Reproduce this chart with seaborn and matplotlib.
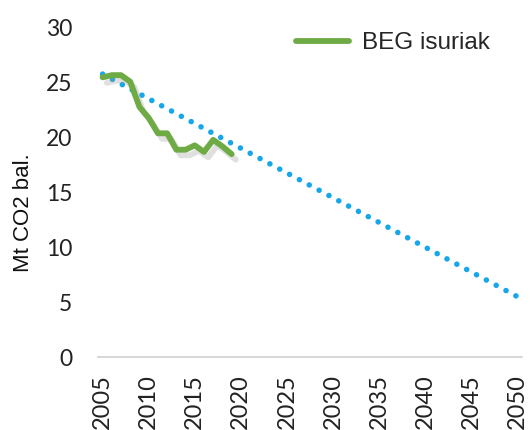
import matplotlib
matplotlib.use("Agg")
import matplotlib.pyplot as plt
import matplotlib.patheffects as pe
import seaborn as sns
import pandas as pd

years_hist = [2005, 2006, 2007, 2008, 2009, 2010, 2011, 2012, 2013, 2014,
              2015, 2016, 2017, 2018, 2019]
beg_values = [25.5, 25.7, 25.7, 25.1, 22.8, 21.8, 20.4, 20.4, 18.9, 18.9,
              19.3, 18.7, 19.8, 19.2, 18.5]
target_years = [2005, 2050]
target_values = [25.8, 5.5]
xtick_years = list(range(2005, 2051, 5))
yticks = [0, 5, 10, 15, 20, 25, 30]

sns.set_style("white")
fig = plt.figure(figsize=(5.3, 4.3), dpi=100)
ax = fig.add_axes([98 / 530, 1 - 357 / 430, 424 / 530, 329 / 430])

df_t = pd.DataFrame({"year": target_years, "value": target_values})
df_h = pd.DataFrame({"year": years_hist, "value": beg_values})

sns.lineplot(data=df_t, x="year", y="value", ax=ax, color="#16A6EA",
             lw=4.0, linestyle=(0, (0.01, 2.0)), legend=False)
ax.lines[-1].set_dash_capstyle("round")

sns.lineplot(data=df_h, x="year", y="value", ax=ax, color="#6FAB45",
             lw=4.2, label="BEG isuriak")
hl = ax.lines[-1]
hl.set_solid_joinstyle("round")
hl.set_solid_capstyle("round")
hl.set_path_effects([
    pe.SimpleLineShadow(offset=(3, -4), shadow_color="#999999", alpha=0.3),
    pe.Normal()])

ax.set_xlim(2004.5, 2050.5)
ax.set_ylim(0, 30)
ax.set_xticks(xtick_years)
ax.set_xticklabels([str(y) for y in xtick_years], rotation=90,
                   fontsize=17, family="Lato", color="#222222")
ax.set_yticks(yticks)
ax.set_yticklabels([str(v) for v in yticks], fontsize=16.5, family="Lato",
                   color="#222222")
ax.tick_params(axis="y", length=0, pad=18.5)
ax.tick_params(axis="x", length=0, pad=12.5)

for s in ["top", "right", "left"]:
    ax.spines[s].set_visible(False)
ax.spines["bottom"].set_color("#D0D0D0")
ax.spines["bottom"].set_linewidth(1.2)

ax.set_xlabel("")
ax.set_ylabel("Mt CO2 bal.", fontsize=16, family="Liberation Sans",
              color="#111111")
ax.yaxis.set_label_coords(-0.152, 0.44)

leg = ax.legend(loc="upper right", frameon=False,
                prop={"family": "Liberation Sans", "size": 17.5},
                handlelength=2.2, handletextpad=0.55,
                bbox_to_anchor=(0.948, 1.017), borderaxespad=0.0)
for line in leg.get_lines():
    line.set_linewidth(4.2)
    line.set_solid_capstyle("round")
    line.set_path_effects([])

fig.savefig("out.png", dpi=100)
